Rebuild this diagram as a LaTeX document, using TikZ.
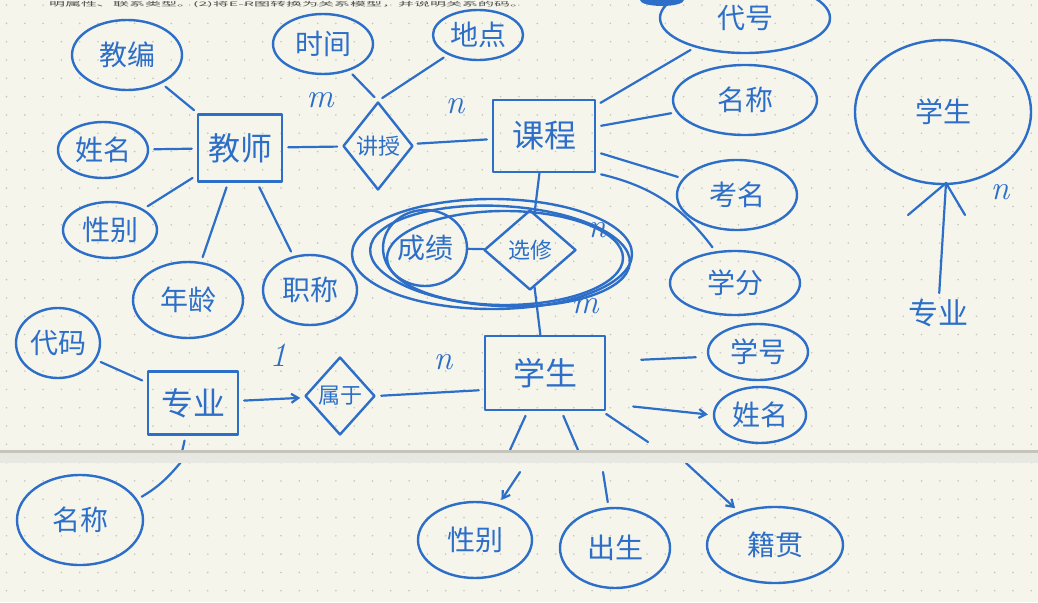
\documentclass[tikz,border=0pt]{standalone}
\usepackage{fontspec}
\newfontfamily\hw{Noto Sans CJK SC}
\usetikzlibrary{shapes.geometric,arrows.meta}
\definecolor{paper}{RGB}{245,245,236}
\definecolor{ink}{RGB}{44,110,200}
\definecolor{dotc}{RGB}{198,198,190}
\definecolor{bandc}{RGB}{232,232,226}
\definecolor{bandl}{RGB}{196,196,188}
\begin{document}
\begin{tikzpicture}[x=1pt,y=-1pt,line width=2.4pt,line cap=round,line join=round,
  attr/.style={ellipse,draw=ink,line width=2.4pt,inner sep=0pt,text=ink,font=\hw\fontsize{28}{28}\selectfont},
  ent/.style={rectangle,draw=ink,line width=2.4pt,inner sep=0pt,text=ink,font=\hw\fontsize{32}{32}\selectfont},
  rel/.style={diamond,draw=ink,line width=2.4pt,inner sep=0pt,text=ink,font=\hw\fontsize{22}{22}\selectfont},
  card/.style={text=ink,inner sep=0pt,font=\itshape\fontsize{34}{34}\selectfont},
  conn/.style={draw=ink,line width=2.2pt,shorten <=5pt,shorten >=5pt},
  arr/.style={conn,-{Straight Barb[length=7pt,width=9pt]}}]
\useasboundingbox (0,0) rectangle (1038,602);
\clip (0,0) rectangle (1038,602);
\fill[paper] (0,0) rectangle (1038,602);
\foreach \i in {0,...,56}{\foreach \j in {0,...,32}{\fill[dotc] (6.5+18.3*\i,5.1+18.3*\j) circle (0.9);}}
% heading line (squashed so it stays inside the page)
\node[anchor=north west,inner sep=0pt,text={rgb,255:red,80;green,80;blue,80},font=\hw\fontsize{16}{16}\selectfont] (toptext) at (48,0.3) {\scalebox{1}[0.38]{明属性、联系类型。(2)将E-R图转换为关系模型，并说明关系的码。}};
\fill[ink] (662,0) ellipse (22 and 6);
% teacher
\node[ent,minimum width=84pt,minimum height=67pt] (js) at (240,148) {教师};
\node[attr,minimum width=110pt,minimum height=70pt] (jb) at (127,55) {教编};
\node[attr,minimum width=90pt,minimum height=56pt] (xm1) at (103,150) {姓名};
\node[attr,minimum width=94pt,minimum height=56pt] (xb1) at (110,230) {性别};
\node[attr,minimum width=110pt,minimum height=76pt] (nl) at (188,300) {年龄};
\node[attr,minimum width=94pt,minimum height=70pt] (zc) at (310,290) {职称};
\node[rel,minimum width=70pt,minimum height=88pt] (jsh) at (378,146) {讲授};
\node[attr,minimum width=100pt,minimum height=60pt] (sj) at (323,44) {时间};
\node[attr,minimum width=90pt,minimum height=50pt] (dd) at (478,35) {地点};
% course
\node[ent,minimum width=102pt,minimum height=72pt] (kc) at (544,136) {课程};
\node[attr,minimum width=170pt,minimum height=70pt] (dh) at (745,18) {代号};
\node[attr,minimum width=144pt,minimum height=70pt] (mc1) at (745,100) {名称};
\node[attr,minimum width=120pt,minimum height=70pt] (km) at (737,195) {考名};
\node[attr,minimum width=130pt,minimum height=64pt] (xf) at (735,283) {学分};
% elective
\draw[ink] (492,254) ellipse (140 and 55);
\draw[ink] (505,258) ellipse (118 and 47);
\draw[ink,rotate around={-3:(500,256)}] (500,256) ellipse (130 and 50);
\node[rel,minimum width=92pt,minimum height=80pt] (xx) at (530,250) {选修};
\node[attr,minimum width=84pt,minimum height=76pt] (cj) at (425,248) {成绩};
% student
\node[ent,minimum width=120pt,minimum height=74pt] (xs) at (545,373) {学生};
\node[attr,minimum width=100pt,minimum height=56pt] (xh) at (758,352) {学号};
\node[attr,minimum width=92pt,minimum height=56pt] (xm2) at (760,415) {姓名};
\node[attr,minimum width=114pt,minimum height=76pt] (xb2) at (475,540) {性别};
\node[attr,minimum width=110pt,minimum height=80pt] (cs) at (615,548) {出生};
\node[attr,minimum width=136pt,minimum height=76pt] (jg) at (775,545) {籍贯};
% major
\node[ent,minimum width=90pt,minimum height=63pt] (zy) at (193,403) {专业};
\node[attr,minimum width=84pt,minimum height=70pt] (dm) at (58,343) {代码};
\node[attr,minimum width=126pt,minimum height=90pt] (mc2) at (80,520) {名称};
\node[rel,minimum width=70pt,minimum height=78pt] (sy) at (340,396) {属于};
% right sketch
\node[attr,minimum width=176pt,minimum height=144pt] (xsb) at (943,112) {学生};
\node[text=ink,inner sep=0pt,font=\hw\fontsize{30}{30}\selectfont] (zyb) at (938,313) {专业};
% cardinalities
\node[card] (m1) at (320,100) {m};
\node[card] (n1) at (455,106) {n};
\node[card] (n2) at (597,230) {n};
\node[card] (m2) at (585,306) {m};
\node[card] (o1) at (278,355) {1};
\node[card] (n3) at (443,362) {n};
\node[card] (n4) at (1000,192) {n};
% connectors teacher
\draw[conn] (jb) -- (js);
\draw[conn] (xm1) -- (js);
\draw[conn] (xb1) -- (js);
\draw[conn] (nl) -- (js);
\draw[conn] (zc) -- (js);
\draw[conn] (js) -- (jsh);
\draw[conn] (jsh) -- (kc);
\draw[conn] (jsh.north) -- (sj);
\draw[conn] (jsh.north) -- (dd);
% connectors course
\draw[conn] (kc) -- (dh);
\draw[conn] (kc) -- (mc1);
\draw[conn] (kc) -- (km);
\draw[conn] (kc.south east) to[bend left=20] (xf);
\draw[conn,shorten <=0pt,shorten >=0pt] (kc) -- (xx);
\draw[conn,shorten <=0pt,shorten >=0pt] (cj) -- (xx);
\draw[conn,shorten <=0pt,shorten >=0pt] (xx) -- (xs);
% connectors student
\draw[conn] ([shift={(30,-13)}]xs.east) -- ([shift={(-6,5)}]xh.west);
\draw[arr] ([shift={(22,33)}]xs.east) -- (xm2.west);
\coordinate (u1) at (510,450);
\coordinate (u2) at (578,450);
\coordinate (u3) at (648,442);
\coordinate (l1) at (520,472);
\coordinate (l2) at (603,472);
\coordinate (l3) at (686,463);
\draw[conn,shorten >=0pt] (xs) -- (u1);
\draw[conn,shorten >=0pt] (xs) -- (u2);
\draw[conn,shorten >=0pt] (xs) -- (u3);
\draw[arr,shorten <=0pt] (l1) -- (xb2);
\draw[conn,shorten <=0pt] (l2) -- (cs);
\draw[arr,shorten <=0pt] (l3) -- (jg);
% connectors major
\draw[conn] (dm) -- (zy);
\draw[arr] (zy) -- (sy);
\draw[conn] (sy.east) -- ([shift={(0,17)}]xs.west);
\coordinate (u4) at (182,452);
\coordinate (l4) at (181,462);
\draw[conn,shorten >=0pt] (zy) -- (u4);
\draw[conn,shorten <=0pt] (l4) to[bend left=10] (mc2);
% right arrow
\coordinate (tip) at (946,183);
\draw[conn,shorten >=0pt] (zyb) -- (tip);
\draw[ink,line width=2.2pt] (908,215) -- (tip) -- (965,215);
% page gap band
\fill[bandc] (0,451) rectangle (1038,463);
\fill[bandl] (0,450) rectangle (1038,452.5);
\end{tikzpicture}
\end{document}
